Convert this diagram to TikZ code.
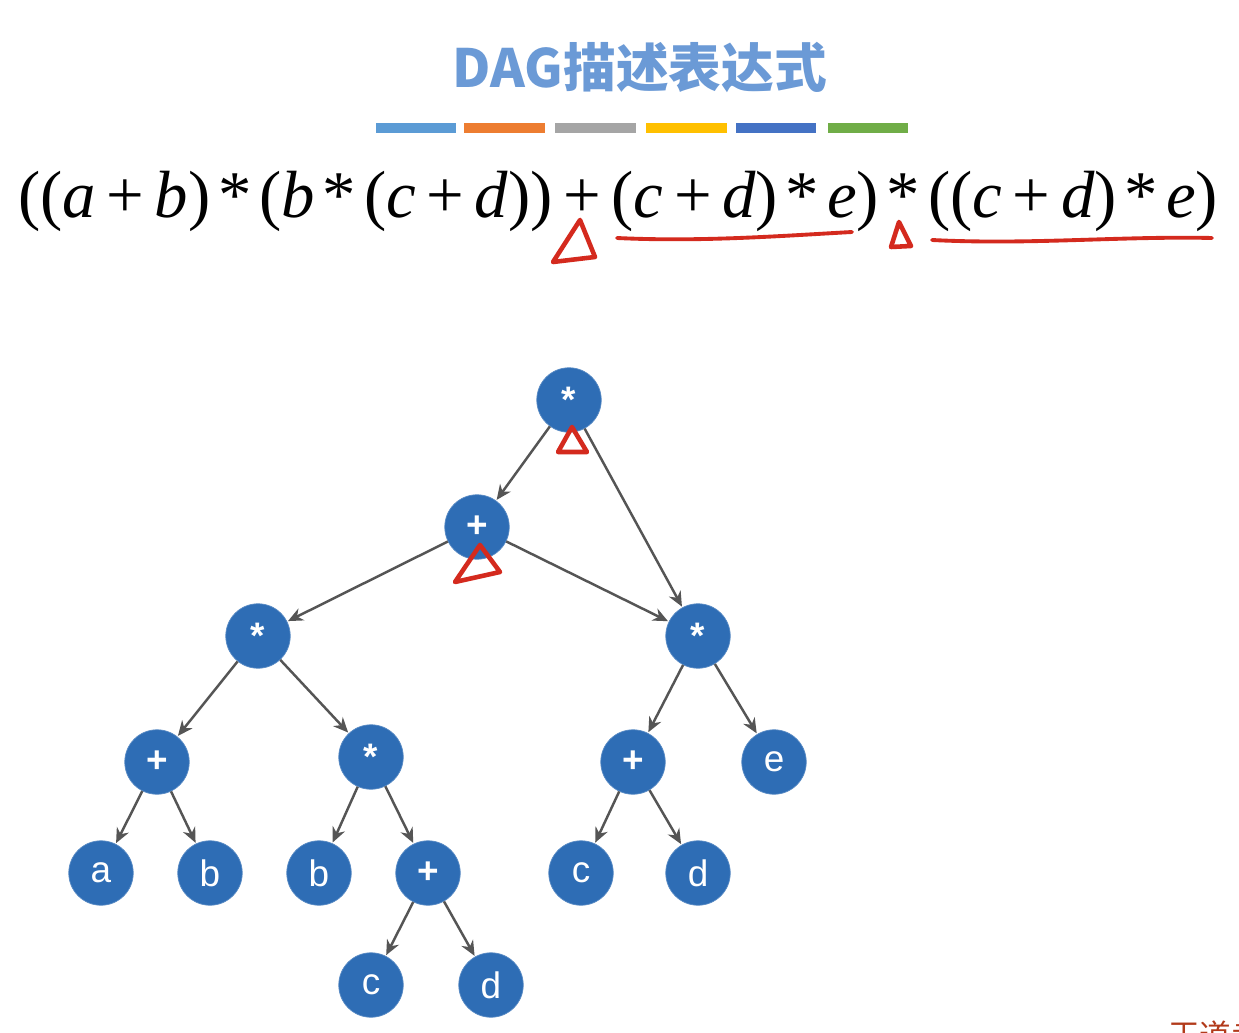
\documentclass[tikz,border=0pt]{standalone}
\usepackage{fontspec}
\setmainfont{Liberation Serif}
\newfontfamily\cjk{Noto Sans CJK SC}
\newfontfamily\arial{Liberation Sans}
\usetikzlibrary{arrows.meta}
\definecolor{titleblue}{HTML}{6B9AD6}
\definecolor{nodeblue}{HTML}{2E6DB5}
\definecolor{edgegray}{HTML}{555555}
\definecolor{penred}{HTML}{D42A1E}
\definecolor{barA}{HTML}{5B9BD5}
\definecolor{barB}{HTML}{ED7D31}
\definecolor{barC}{HTML}{A5A5A5}
\definecolor{barD}{HTML}{FFC000}
\definecolor{barE}{HTML}{4472C4}
\definecolor{barF}{HTML}{70AD47}
\definecolor{brandred}{HTML}{B23A1A}
\newcommand{\opstar}{\kern4.5pt*\kern4.5pt}
\newcommand{\opplus}{\kern6pt+\kern6pt}
\begin{document}
\begin{tikzpicture}[x=0.02cm,y=-0.02cm,
  tnode/.style={circle,fill=nodeblue,draw=nodeblue!80!white,line width=0.4pt,minimum size=1.29cm,inner sep=0pt,text=white,font=\arial\fontsize{21}{21}\selectfont},
  opnode/.style={tnode,font=\arial\bfseries\fontsize{21}{21}\selectfont},
  edge/.style={draw=edgegray,line width=1.4pt,-{Stealth[length=8.5pt,width=7.5pt]},shorten >=0.5pt},
  pen/.style={draw=penred,line width=2.6pt,line join=round,line cap=round},
  thinpen/.style={draw=penred,line width=2.2pt,line join=round,line cap=round}]
\useasboundingbox (0,0) rectangle (1239,1033);
\fill[white] (0,0) rectangle (1239,1033);
% title
\node[text=titleblue,font=\cjk\bfseries\fontsize{30}{34}\selectfont] (title) at (640,68) {DAG描述表达式};
% colour bars
\fill[barA] (376,123) rectangle (456,133);
\fill[barB] (464,123) rectangle (545,133);
\fill[barC] (555,123) rectangle (636,133);
\fill[barD] (646,123) rectangle (727,133);
\fill[barE] (736,123) rectangle (816,133);
\fill[barF] (828,123) rectangle (908,133);
% formula
\node[font=\fontsize{38}{42}\selectfont,inner sep=0pt] (formula) at (618,201)
{((\textit{a}\opplus\textit{b})\opstar(\textit{b}\opstar(\textit{c}\opplus\textit{d}))\opplus(\textit{c}\opplus\textit{d})\opstar\textit{e})\opstar((\textit{c}\opplus\textit{d})\opstar\textit{e})};
% red annotations on formula
\draw[pen] (580,220) -- (553,262) -- (595,257) -- cycle;
\draw[thinpen] (617,238) .. controls (700,242) and (780,236) .. (852,232);
\draw[pen] (899,222) -- (891,247) -- (911,246) -- cycle;
\draw[thinpen] (932,240) .. controls (1030,245) and (1120,236) .. (1212,238);
% tree nodes
\node[opnode] (root) at (569,400) {*};
\node[opnode] (p1) at (477,527) {+};
\node[opnode] (sL) at (258,636) {*};
\node[opnode] (sR) at (698,636) {*};
\node[opnode] (pA) at (157,762) {+};
\node[opnode] (sM) at (371,757) {*};
\node[opnode] (pR) at (633,762) {+};
\node[tnode] (e) at (774,762) {e};
\node[tnode] (a) at (101,873) {a};
\node[tnode] (b1) at (210,873) {b};
\node[tnode] (b2) at (319,873) {b};
\node[opnode] (pM) at (428,873) {+};
\node[tnode] (c2) at (581,873) {c};
\node[tnode] (d2) at (698,873) {d};
\node[tnode] (c1) at (371,985) {c};
\node[tnode] (d1) at (491,985) {d};
% edges
\draw[edge] (root) -- (p1);
\draw[edge] (root) -- (sR);
\draw[edge] (p1) -- (sL);
\draw[edge] (p1) -- (sR);
\draw[edge] (sL) -- (pA);
\draw[edge] (sL) -- (sM);
\draw[edge] (sR) -- (pR);
\draw[edge] (sR) -- (e);
\draw[edge] (pA) -- (a);
\draw[edge] (pA) -- (b1);
\draw[edge] (sM) -- (b2);
\draw[edge] (sM) -- (pM);
\draw[edge] (pR) -- (c2);
\draw[edge] (pR) -- (d2);
\draw[edge] (pM) -- (c1);
\draw[edge] (pM) -- (d1);
% red annotations on tree
\draw[pen] (572,427) -- (558,452) -- (587,452) -- cycle;
\draw[pen] (480,545) -- (455,582) -- (500,572) -- cycle;
% brand text (cut off at bottom, as in the reference)
\node[anchor=north west,inner sep=0pt,text=brandred,font=\cjk\fontsize{18}{18}\selectfont] (brand) at (1168,1020) {王道考研};
\end{tikzpicture}
\end{document}
